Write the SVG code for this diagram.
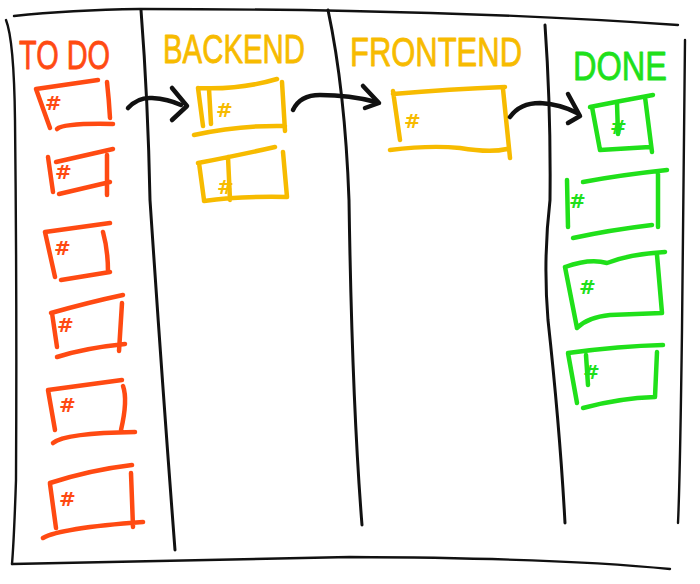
<svg xmlns="http://www.w3.org/2000/svg" width="700" height="584" viewBox="0 0 700 584">
<style>
.k{fill:none;stroke:#111;stroke-width:3;stroke-linecap:round;stroke-linejoin:round}
.kf{fill:none;stroke:#111;stroke-width:2.4;stroke-linecap:round}
.ka{fill:none;stroke:#111;stroke-width:4.5;stroke-linecap:round;stroke-linejoin:round}
.r{fill:none;stroke:#FF4A12;stroke-width:4.5;stroke-linecap:round;stroke-linejoin:round}
.y{fill:none;stroke:#F7BB00;stroke-width:4.5;stroke-linecap:round;stroke-linejoin:round}
.g{fill:none;stroke:#20E01A;stroke-width:4.5;stroke-linecap:round;stroke-linejoin:round}
.h{font-family:"Liberation Sans Narrow","Liberation Sans",sans-serif;font-size:40px;stroke-width:0.8;stroke-linejoin:round}
.m{font-family:"DejaVu Sans",sans-serif;font-weight:bold;font-size:20px}
</style>
<rect width="700" height="584" fill="#fff"/>
<g id="board">
<path class="kf" d="M14 16 Q70 10 140 9 Q250 9 350 11 Q520 14 678 25"/>
<path class="kf" d="M6 20 Q14 40 15 120 Q17 300 16 480 Q14 540 12 564"/>
<path class="kf" d="M12 564 Q180 560 350 557 Q560 558 670 569"/>
<path class="kf" d="M685 40 Q683 200 682 330 Q680 480 678 523"/>
<path class="k" d="M141 10 Q148 100 150 200 Q162 380 175 550"/>
<path class="k" d="M328 10 Q345 90 349 200 Q352 400 362 525"/>
<path class="k" d="M545 25 Q551 110 550 200 Q543 260 548 320 Q560 430 565 523"/>
</g>
<g id="todo">
<text class="h" x="19" y="69" fill="#FF4A12" stroke="#FF4A12" textLength="91" lengthAdjust="spacingAndGlyphs">TO DO</text>
</g>
<g id="backend">
<text class="h" x="163" y="63" fill="#F7BB00" stroke="#F7BB00" textLength="142" lengthAdjust="spacingAndGlyphs">BACKEND</text>
</g>
<g id="frontend">
<text class="h" x="350" y="66" fill="#F7BB00" stroke="#F7BB00" textLength="172" lengthAdjust="spacingAndGlyphs">FRONTEND</text>
</g>
<g id="done">
<text class="h" x="573" y="80" fill="#20E01A" stroke="#20E01A" font-size="46" textLength="94" lengthAdjust="spacingAndGlyphs">DONE</text>
</g>
<g id="todo-card-1">
<path class="r" d="M36 89 L98 80 M36 89 L50 128 M107 82 Q109 100 110 118 M57 129 Q64 123 113 124"/>
<text class="m" x="45" y="110" fill="#FF4A12">#</text>
</g>
<g id="todo-card-2">
<path class="r" d="M56 162 L113 149 M48 157 L53 192 M107 155 L107 195 M59 194 L110 182"/>
<text class="m" x="55" y="179" fill="#FF4A12">#</text>
</g>
<g id="todo-card-3">
<path class="r" d="M45 232 L110 223 M45 232 L55 277 M103 232 Q108 250 108 272 M61 280 L110 272"/>
<text class="m" x="54" y="255" fill="#FF4A12">#</text>
</g>
<g id="todo-card-4">
<path class="r" d="M51 313 Q90 302 123 295 M52 313 L57 347 M122 303 L119 351 M57 357 Q85 348 125 344"/>
<text class="m" x="57" y="332" fill="#FF4A12">#</text>
</g>
<g id="todo-card-5">
<path class="r" d="M48 390 L122 380 M48 390 L55 430 M123 386 Q128 400 121 430 M53 443 Q65 433 135 432"/>
<text class="m" x="59" y="412" fill="#FF4A12">#</text>
</g>
<g id="todo-card-6">
<path class="r" d="M50 483 Q90 470 132 465 M50 484 L56 528 M131 473 L133 527 M43 538 Q60 528 143 522"/>
<text class="m" x="59" y="506" fill="#FF4A12">#</text>
</g>
<g id="backend-card-1">
<path class="y" d="M198 88 Q240 90 277 79 M198 88 L203 126 M282 82 L285 131 M194 135 Q240 125 285 126 M209 89 L211 124"/>
<text class="m" x="216" y="117" fill="#F7BB00">#</text>
</g>
<g id="backend-card-2">
<path class="y" d="M198 163 Q240 155 275 147 M199 163 L204 200 M283 152 L287 197 M204 201 Q240 196 287 197 M228 157 L230 200"/>
<text class="m" x="217" y="194" fill="#F7BB00">#</text>
</g>
<g id="frontend-card-1">
<path class="y" d="M393 94 Q450 89 505 87 M393 91 L400 140 M503 89 L510 158 M390 150 Q430 145 460 148 Q490 153 507 149"/>
<text class="m" x="404" y="128" fill="#F7BB00" font-size="24">#</text>
</g>
<g id="done-card-1">
<path class="g" d="M590 107 Q620 101 653 95 M592 107 L600 150 M645 97 L652 152 M600 150 L650 147 M617 103 L618 134"/>
<text class="m" x="610" y="134" fill="#20E01A">#</text>
</g>
<g id="done-card-2">
<path class="g" d="M583 182 Q620 175 667 170 M567 180 L568 227 M658 174 L658 227 M573 238 Q610 230 652 225"/>
<text class="m" x="569" y="208" fill="#20E01A">#</text>
</g>
<g id="done-card-3">
<path class="g" d="M565 267 Q590 258 607 263 Q630 254 665 252 M565 267 L577 328 M657 255 L662 313 M577 328 Q588 317 610 315 L662 313"/>
<text class="m" x="579" y="294" fill="#20E01A">#</text>
</g>
<g id="done-card-4">
<path class="g" d="M568 353 Q620 346 663 345 M568 353 L577 403 M657 352 L655 397 M583 408 Q620 398 655 397 M586 355 L588 385"/>
<text class="m" x="583" y="379" fill="#20E01A">#</text>
</g>
<g id="connectors">
<path class="ka" d="M128 108 Q138 97 152 98 Q168 99 181 105"/>
<path class="ka" d="M172 88 L187 106 L172 120"/>
<path class="ka" d="M293 110 Q300 95 320 95 Q350 95 376 102"/>
<path class="ka" d="M363 86 L379 103 L365 108"/>
<path class="ka" d="M510 117 Q520 103 540 103 Q560 104 577 113"/>
<path class="ka" d="M568 94 L580 116 L568 123"/>
</g>
</svg>
